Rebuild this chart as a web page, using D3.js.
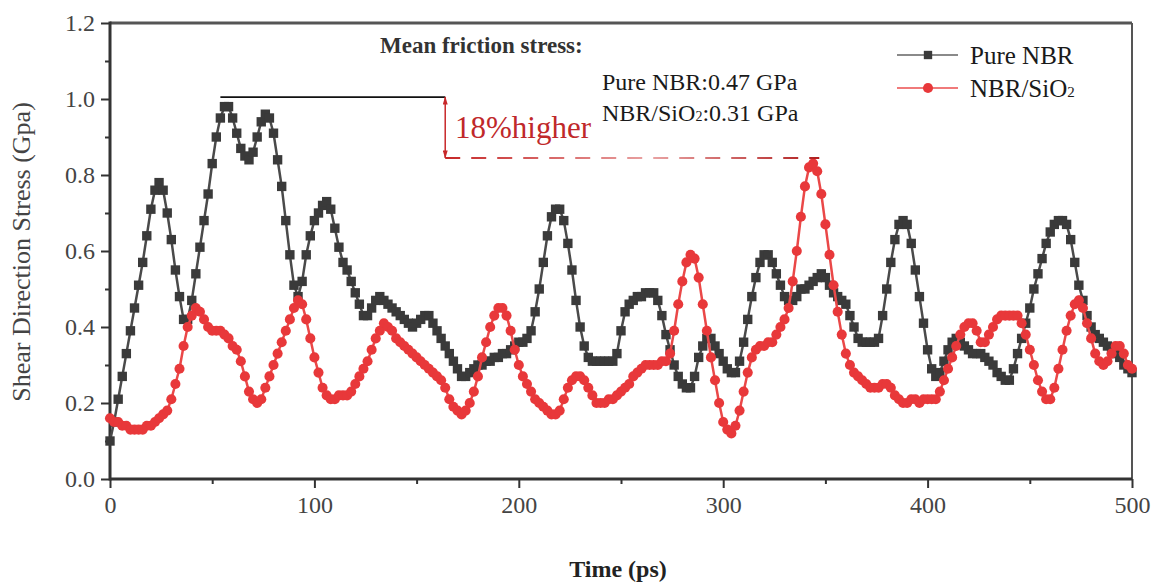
<!DOCTYPE html>
<html>
<head>
<meta charset="utf-8">
<script src="https://cdn.jsdelivr.net/npm/d3@7"></script>
<style>
  html, body { margin: 0; padding: 0; background: #fff; overflow: hidden; }
  svg { display: block; }
  text { font-family: "Liberation Serif", "Times New Roman", serif; }
</style>
</head>
<body>
<div id="chart"></div>
<script>
// Sample times (ps), one reading every 2 ps
const timeStep = 2;

// Shear direction stress (GPa)
const pureNBR = [
  0.10,0.15,0.21,0.27,0.33,0.39,0.45,0.51,0.57,0.64,
  0.71,0.76,0.78,0.76,0.70,0.63,0.55,0.48,0.42,0.42,
  0.47,0.54,0.61,0.68,0.75,0.83,0.90,0.95,0.98,0.98,
  0.95,0.91,0.87,0.85,0.84,0.86,0.90,0.94,0.96,0.95,
  0.91,0.84,0.77,0.68,0.59,0.51,0.48,0.52,0.59,0.64,
  0.68,0.70,0.72,0.73,0.71,0.66,0.61,0.57,0.55,0.52,
  0.49,0.46,0.43,0.43,0.45,0.47,0.48,0.47,0.46,0.45,
  0.44,0.43,0.42,0.41,0.40,0.41,0.42,0.43,0.43,0.41,
  0.39,0.37,0.35,0.33,0.31,0.29,0.27,0.27,0.28,0.29,
  0.30,0.30,0.31,0.31,0.32,0.32,0.33,0.33,0.34,0.35,
  0.36,0.36,0.37,0.39,0.44,0.50,0.57,0.64,0.69,0.71,
  0.71,0.68,0.62,0.55,0.47,0.40,0.35,0.32,0.31,0.31,
  0.31,0.31,0.31,0.31,0.33,0.39,0.44,0.46,0.47,0.48,
  0.48,0.49,0.49,0.49,0.47,0.43,0.38,0.34,0.30,0.27,
  0.25,0.24,0.24,0.27,0.32,0.35,0.37,0.37,0.35,0.33,
  0.31,0.29,0.28,0.28,0.31,0.36,0.42,0.48,0.53,0.57,
  0.59,0.59,0.57,0.54,0.51,0.48,0.47,0.47,0.48,0.50,
  0.50,0.51,0.52,0.53,0.54,0.53,0.51,0.49,0.48,0.47,
  0.46,0.43,0.40,0.37,0.36,0.36,0.36,0.36,0.37,0.43,
  0.50,0.57,0.63,0.67,0.68,0.67,0.62,0.55,0.48,0.41,
  0.34,0.29,0.27,0.28,0.31,0.34,0.36,0.37,0.36,0.35,
  0.34,0.33,0.33,0.33,0.32,0.31,0.30,0.28,0.27,0.26,
  0.26,0.29,0.33,0.37,0.41,0.45,0.50,0.54,0.58,0.62,
  0.65,0.67,0.68,0.68,0.67,0.63,0.57,0.51,0.47,0.43,
  0.40,0.38,0.37,0.36,0.35,0.34,0.33,0.32,0.30,0.29,
  0.28
];

const nbrSiO2 = [
  0.16,0.15,0.15,0.14,0.14,0.13,0.13,0.13,0.13,0.14,
  0.14,0.15,0.16,0.17,0.18,0.21,0.25,0.29,0.35,0.40,
  0.43,0.45,0.44,0.42,0.40,0.39,0.39,0.39,0.38,0.37,
  0.35,0.34,0.31,0.27,0.23,0.21,0.20,0.21,0.24,0.27,
  0.30,0.33,0.36,0.39,0.42,0.45,0.47,0.46,0.42,0.37,
  0.32,0.28,0.24,0.22,0.21,0.21,0.22,0.22,0.22,0.23,
  0.25,0.27,0.29,0.31,0.34,0.37,0.39,0.41,0.40,0.39,
  0.37,0.36,0.35,0.34,0.33,0.32,0.31,0.30,0.29,0.28,
  0.27,0.26,0.24,0.21,0.19,0.18,0.17,0.18,0.20,0.23,
  0.27,0.32,0.36,0.40,0.43,0.45,0.45,0.43,0.39,0.34,
  0.30,0.27,0.25,0.23,0.21,0.20,0.19,0.18,0.17,0.17,
  0.18,0.21,0.24,0.26,0.27,0.27,0.26,0.24,0.22,0.20,
  0.20,0.20,0.21,0.21,0.22,0.23,0.24,0.25,0.27,0.28,
  0.29,0.30,0.30,0.30,0.30,0.31,0.31,0.33,0.39,0.46,
  0.52,0.57,0.59,0.58,0.53,0.46,0.39,0.32,0.26,0.20,
  0.15,0.13,0.12,0.14,0.18,0.23,0.28,0.32,0.34,0.35,
  0.35,0.36,0.36,0.38,0.40,0.42,0.45,0.52,0.60,0.69,
  0.77,0.82,0.83,0.81,0.75,0.67,0.59,0.51,0.44,0.38,
  0.33,0.30,0.28,0.27,0.26,0.25,0.24,0.24,0.24,0.25,
  0.25,0.24,0.22,0.21,0.20,0.20,0.21,0.21,0.20,0.21,
  0.21,0.21,0.21,0.23,0.26,0.29,0.32,0.35,0.38,0.40,
  0.41,0.41,0.39,0.36,0.36,0.38,0.40,0.42,0.43,0.43,
  0.43,0.43,0.43,0.41,0.38,0.34,0.30,0.26,0.23,0.21,
  0.21,0.24,0.29,0.34,0.39,0.43,0.46,0.47,0.45,0.41,
  0.37,0.33,0.31,0.30,0.31,0.33,0.35,0.35,0.33,0.30,
  0.29
];

// Axis ticks
const xMajorTicks = [0, 100, 200, 300, 400, 500];
const xMinorTicks = [50, 150, 250, 350, 450];
const yMajorTicks = [0, 0.2, 0.4, 0.6, 0.8, 1.0, 1.2];
const yMinorTicks = [0.1, 0.3, 0.5, 0.7, 0.9, 1.1];

// Annotation values
const peakNBR = 1.005;      // top of the black bracket
const peakSiO2 = 0.845;     // top of the red dashed bracket
const bracketStart = 54;
const bracketEnd = 164;
const dashedEnd = 347;

const seriesNames = ["Pure NBR", "NBR/SiO2"];


/*******************************/
/*    Declare the constants    */
/*******************************/
const width = 1158;
const height = 585;
const margin = {top: 23, right: 26, bottom: 106, left: 110};
const innerWidth = width - margin.left - margin.right;
const innerHeight = height - margin.top - margin.bottom;
const black = "#3a3a3a";
const red = "#e8383a";


/*******************************/
/*    Append the containers    */
/*******************************/
const svg = d3.select("#chart")
  .append("svg")
    .attr("width", width)
    .attr("height", height)
    .attr("viewBox", `0 0 ${width} ${height}`);

const defs = svg.append("defs");

defs.append("marker")
    .attr("id", "arrow-head")
    .attr("viewBox", "0 0 10 6")
    .attr("refX", 9)
    .attr("refY", 3)
    .attr("markerWidth", 10)
    .attr("markerHeight", 5)
    .attr("markerUnits", "userSpaceOnUse")
    .attr("orient", "auto-start-reverse")
  .append("path")
    .attr("d", "M0,0 L10,3 L0,6 Z")
    .attr("fill", "#c8282a");

const innerChart = svg
  .append("g")
    .attr("transform", `translate(${margin.left}, ${margin.top})`);


/****************************/
/*    Declare the scales    */
/****************************/
const xScale = d3.scaleLinear()
  .domain([0, 500])
  .range([0, innerWidth]);

const yScale = d3.scaleLinear()
  .domain([0, 1.2])
  .range([innerHeight, 0]);

const toPoints = values => values.map((v, i) => ({t: i * timeStep, v: v}));
const series = [
  {name: seriesNames[0], points: toPoints(pureNBR), color: black, lineColor: "#4a4a4a", symbol: d3.symbolSquare, size: 88},
  {name: seriesNames[1], points: toPoints(nbrSiO2), color: red, lineColor: "#ea4848", symbol: d3.symbolCircle, size: 80}
];


/*****************************/
/*    Append the axes        */
/*****************************/
const styleAxis = (g) => {
  g.select(".domain").remove();
  g.selectAll(".tick line")
    .attr("stroke", "#333")
    .attr("stroke-width", 2);
  g.selectAll(".tick text")
    .attr("fill", "#444")
    .style("font-family", "Liberation Serif, serif")
    .style("font-size", "24px");
};

// minor ticks, no labels
innerChart.append("g")
    .attr("transform", `translate(0, ${innerHeight})`)
    .call(d3.axisBottom(xScale).tickValues(xMinorTicks).tickSize(5))
    .call(styleAxis)
    .call(g => g.selectAll(".tick text").remove());

innerChart.append("g")
    .call(d3.axisLeft(yScale).tickValues(yMinorTicks).tickSize(5))
    .call(styleAxis)
    .call(g => g.selectAll(".tick text").remove());

// major ticks
innerChart.append("g")
    .attr("transform", `translate(0, ${innerHeight})`)
    .call(d3.axisBottom(xScale).tickValues(xMajorTicks).tickSize(9).tickPadding(8).tickFormat(d3.format("d")))
    .call(styleAxis);

innerChart.append("g")
    .call(d3.axisLeft(yScale).tickValues(yMajorTicks).tickSize(9).tickPadding(6).tickFormat(d3.format(".1f")))
    .call(styleAxis);

// frame
innerChart.append("line")
    .attr("x1", 0).attr("x2", innerWidth)
    .attr("y1", 0).attr("y2", 0)
    .attr("stroke", "#555").attr("stroke-width", 3);
innerChart.append("line")
    .attr("x1", innerWidth).attr("x2", innerWidth)
    .attr("y1", 0).attr("y2", innerHeight)
    .attr("stroke", "#555").attr("stroke-width", 2);
innerChart.append("line")
    .attr("x1", 0).attr("x2", 0)
    .attr("y1", -1.5).attr("y2", innerHeight + 1.5)
    .attr("stroke", "#333").attr("stroke-width", 3);
innerChart.append("line")
    .attr("x1", 0).attr("x2", innerWidth)
    .attr("y1", innerHeight).attr("y2", innerHeight)
    .attr("stroke", "#333").attr("stroke-width", 3);


/*******************************/
/*    Append the series        */
/*******************************/
const lineGenerator = d3.line()
  .x(d => xScale(d.t))
  .y(d => yScale(d.v));

series.forEach(s => {
  const g = innerChart.append("g");

  g.append("path")
      .datum(s.points)
      .attr("d", lineGenerator)
      .attr("fill", "none")
      .attr("stroke", s.lineColor)
      .attr("stroke-width", 2.5)
      .attr("stroke-linejoin", "round");

  g.selectAll("path.marker")
    .data(s.points)
    .join("path")
      .attr("class", "marker")
      .attr("d", d3.symbol(s.symbol, s.size))
      .attr("transform", d => `translate(${xScale(d.t)}, ${yScale(d.v)})`)
      .attr("fill", s.color);
});


/********************************/
/*    Append the annotation     */
/********************************/
// black bracket at the Pure NBR peak
innerChart.append("line")
    .attr("x1", xScale(bracketStart)).attr("x2", xScale(bracketEnd))
    .attr("y1", yScale(peakNBR)).attr("y2", yScale(peakNBR))
    .attr("stroke", "#111")
    .attr("stroke-width", 1.8);

// red double arrow
innerChart.append("line")
    .attr("x1", xScale(bracketEnd)).attr("x2", xScale(bracketEnd))
    .attr("y1", yScale(peakNBR)).attr("y2", yScale(peakSiO2))
    .attr("stroke", "#c8282a")
    .attr("stroke-width", 1.5)
    .attr("marker-start", "url(#arrow-head)")
    .attr("marker-end", "url(#arrow-head)");

// red dashed bracket, fading towards its middle
const dashGradient = defs.append("linearGradient")
    .attr("id", "dash-gradient")
    .attr("gradientUnits", "userSpaceOnUse")
    .attr("x1", margin.left + xScale(bracketEnd))
    .attr("x2", margin.left + xScale(dashedEnd))
    .attr("y1", 0).attr("y2", 0);
dashGradient.append("stop").attr("offset", "0%").attr("stop-color", "#c62828");
dashGradient.append("stop").attr("offset", "55%").attr("stop-color", "#e9a3a3");
dashGradient.append("stop").attr("offset", "100%").attr("stop-color", "#b01e1e");

svg.append("line")
    .attr("x1", margin.left + xScale(bracketEnd)).attr("x2", margin.left + xScale(dashedEnd))
    .attr("y1", margin.top + yScale(peakSiO2)).attr("y2", margin.top + yScale(peakSiO2))
    .attr("stroke", "url(#dash-gradient)")
    .attr("stroke-width", 2)
    .attr("stroke-dasharray", "15,11");

svg.append("text")
    .text("18%higher")
    .attr("x", 455)
    .attr("y", 138)
    .attr("fill", "#c0282a")
    .style("font-size", "31px");

svg.append("text")
    .text("Mean friction stress:")
    .attr("x", 380)
    .attr("y", 53)
    .attr("fill", "#333")
    .style("font-weight", "bold")
    .style("font-size", "23px");

svg.append("text")
    .text("Pure NBR:0.47 GPa")
    .attr("x", 602)
    .attr("y", 90)
    .attr("fill", "#1a1a1a")
    .style("font-size", "24px");

const meanSiO2 = svg.append("text")
    .attr("x", 602)
    .attr("y", 121)
    .attr("fill", "#1a1a1a")
    .style("font-size", "24px");
meanSiO2.append("tspan").text("NBR/SiO");
meanSiO2.append("tspan").text("2").style("font-size", "14px");
meanSiO2.append("tspan").text(":0.31 GPa");


/*****************************/
/*    Append the legend      */
/*****************************/
const legend = svg.append("g")
    .attr("transform", "translate(897, 55)");

series.forEach((s, i) => {
  const row = legend.append("g")
      .attr("transform", `translate(0, ${i * 33})`);
  row.append("line")
      .attr("x1", 0).attr("x2", 61)
      .attr("stroke", i === 0 ? "#8a8a8a" : "#f07a7a")
      .attr("stroke-width", 2);
  row.append("path")
      .attr("d", d3.symbol(s.symbol, i === 0 ? 70 : 80))
      .attr("transform", "translate(31, 0)")
      .attr("fill", s.color);
  const label = row.append("text")
      .attr("x", 73)
      .attr("y", 9)
      .attr("fill", "#1a1a1a")
      .style("font-size", "25px");
  if (i === 0) {
    label.text(s.name);
  } else {
    label.append("tspan").text("NBR/SiO");
    label.append("tspan").text("2").style("font-size", "15px");
  }
});


/*****************************/
/*    Append axis labels     */
/*****************************/
svg.append("text")
    .text("Shear Direction Stress (Gpa)")
    .attr("text-anchor", "middle")
    .attr("transform", "translate(30, 252) rotate(-90)")
    .attr("fill", "#444")
    .style("font-size", "26px");

svg.append("text")
    .text("Time (ps)")
    .attr("text-anchor", "middle")
    .attr("x", 618)
    .attr("y", 577)
    .attr("fill", "#222")
    .style("font-weight", "bold")
    .style("font-size", "24px");
</script>
</body>
</html>
